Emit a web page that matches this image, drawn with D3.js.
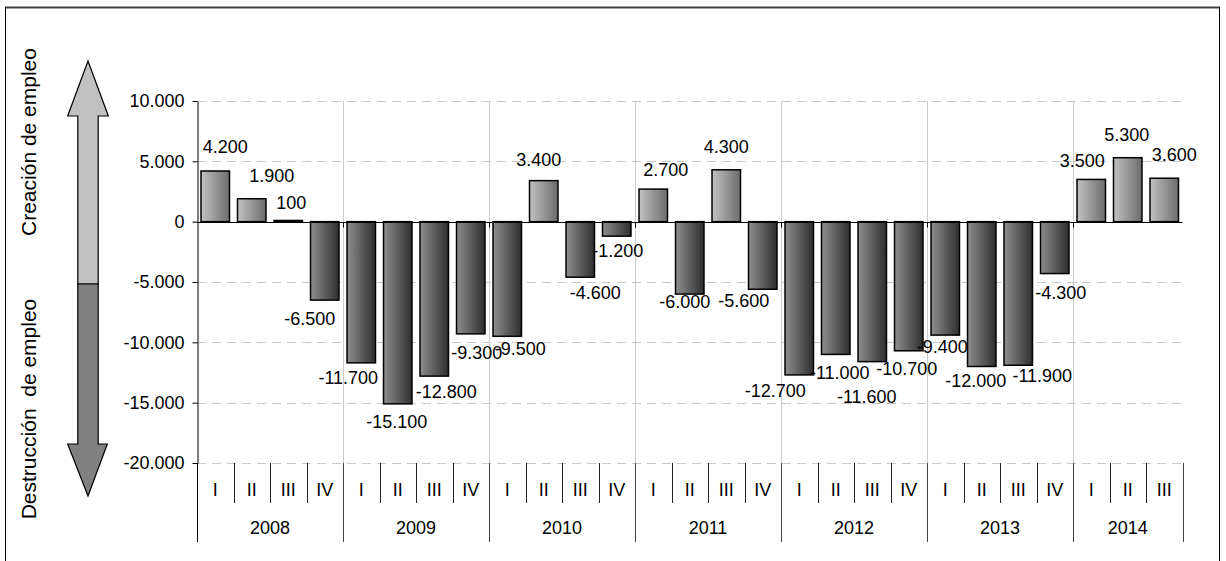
<!DOCTYPE html>
<html><head><meta charset="utf-8">
<script src="https://cdn.jsdelivr.net/npm/d3@7"></script>
<style>
body{margin:0;background:#fff;}
text{font-family:"Liberation Sans",Arial,sans-serif;fill:#000;}
</style>
</head><body>
<svg id="c" width="1226" height="561"></svg>
<script>
// ---- data ----
const years = ["2008","2009","2010","2011","2012","2013","2014"];
const quarterLabels = ["I","II","III","IV"];
const quartersPerYear = [4,4,4,4,4,4,3];
const values = [4200,1900,100,-6500,-11700,-15100,-12800,-9300,-9500,3400,-4600,-1200,2700,-6000,4300,-5600,-12700,-11000,-11600,-10700,-9400,-12000,-11900,-4300,3500,5300,3600];
const yTicks = [10000,5000,0,-5000,-10000,-15000,-20000];
const axisTitles = ["Creación de empleo","Destrucción  de empleo"];

// ---- layout (label nudges relative to bar end, px) ----
const labelNudge = [[10,-24],[20,-23],[3,-17.5],[-15,19],[-13,15],[-1,18],[12,15.5],[6,19],[13,13],[-5,-21],[15,16],[1,15],[12.5,-19],[-5,8],[0,-23],[-19,12],[-24,16],[4,18.6],[-5.5,35],[-2,18],[-3,11.5],[-6,14.5],[24,11],[6,19],[-9,-18.5],[-1,-22.7],[10,-23]];

const cats = [];
years.forEach((yr,i)=>{ for(let q=0;q<quartersPerYear[i];q++) cats.push({key:yr+"-"+quarterLabels[q], year:yr, q:quarterLabels[q]}); });
const data = cats.map((c,i)=>({...c, v:values[i]}));

const svg = d3.select("#c");
const FS = 18, FT = 21;
const L=197, R=1182.5, T=101, B=463;
const x = d3.scaleBand().domain(cats.map(d=>d.key)).range([L,R]).paddingInner(0.22).paddingOuter(0.11);
const y = d3.scaleLinear().domain([-20000,10000]).range([B,T]);
const step = x.step();
const edge = i => L + i*step;

const loc = d3.formatLocale({decimal:",", thousands:".", grouping:[3], currency:["","€"], minus:"-"});
const fmt = loc.format(",d");

// border
svg.append("line").attr("x1",5).attr("x2",1220).attr("y1",7.5).attr("y2",7.5).attr("stroke","#404040").attr("stroke-width",2);
svg.append("line").attr("x1",5.5).attr("x2",5.5).attr("y1",7).attr("y2",561).attr("stroke","#000").attr("stroke-width",1);
svg.append("line").attr("x1",1219.5).attr("x2",1219.5).attr("y1",7).attr("y2",561).attr("stroke","#000").attr("stroke-width",1);

// gradients
const defs = svg.append("defs");
function grad(id, c1, c2){
  const g = defs.append("linearGradient").attr("id",id).attr("x1","0%").attr("x2","100%").attr("y1","0%").attr("y2","0%");
  g.append("stop").attr("offset","0%").attr("stop-color",c1);
  g.append("stop").attr("offset","100%").attr("stop-color",c2);
}
grad("pos","#c2c2c2","#6c6c6c");
grad("neg","#8e8e8e","#2e2e2e");

// horizontal gridlines
svg.append("g").selectAll("line").data(yTicks.filter(t=>t!==0)).join("line")
  .attr("x1",L).attr("x2",R).attr("y1",d=>Math.round(y(d))+0.5).attr("y2",d=>Math.round(y(d))+0.5)
  .attr("stroke","#c8c8c8").attr("stroke-dasharray","9,6");

// vertical year gridlines in plot area
const yearStarts = [];
{ let s=0; quartersPerYear.forEach(n=>{ yearStarts.push(s); s+=n; }); yearStarts.push(s); }
svg.append("g").selectAll("line").data(yearStarts.slice(1,-1)).join("line")
  .attr("x1",d=>Math.round(edge(d))+0.5).attr("x2",d=>Math.round(edge(d))+0.5).attr("y1",T).attr("y2",B)
  .attr("stroke","#cccccc");

// y axis
const ax = svg.append("g").attr("transform",`translate(${L+0.5},0)`)
  .call(d3.axisLeft(y).tickValues(yTicks).tickFormat(fmt).tickSize(5).tickSizeOuter(0).tickPadding(8));
ax.selectAll("text").style("font-size",FS+"px").attr("font-family",null);
ax.selectAll("line,path").attr("stroke","#000");
svg.append("line").attr("x1",L+0.5).attr("x2",L+0.5).attr("y1",B).attr("y2",542).attr("stroke","#000");

// bars
svg.append("g").selectAll("rect").data(data).join("rect")
  .attr("x",d=>x(d.key)).attr("width",x.bandwidth())
  .attr("y",d=>y(Math.max(0,d.v))).attr("height",d=>Math.abs(y(d.v)-y(0)))
  .attr("fill",d=>d.v>=0?"url(#pos)":"url(#neg)")
  .attr("stroke","#000").attr("stroke-width",1.5);

// zero line
const y0 = Math.round(y(0))+0.5;
svg.append("line").attr("x1",L).attr("x2",R).attr("y1",y0).attr("y2",y0).attr("stroke","#000");
svg.append("g").selectAll("line").data(yearStarts.slice(1,-1)).join("line")
  .attr("x1",d=>Math.round(edge(d))+0.5).attr("x2",d=>Math.round(edge(d))+0.5).attr("y1",y0).attr("y2",y0+5)
  .attr("stroke","#000");

// data labels
svg.append("g").selectAll("text").data(data).join("text")
  .attr("x",(d,i)=>x(d.key)+x.bandwidth()/2+labelNudge[i][0])
  .attr("y",(d,i)=>y(d.v)+labelNudge[i][1])
  .attr("text-anchor","middle").attr("dominant-baseline","central")
  .style("font-size",FS+"px").text(d=>fmt(d.v));

// category axis: quarter separators
const qSep = d3.range(1,cats.length).filter(i=>!yearStarts.includes(i));
svg.append("g").selectAll("line").data(qSep).join("line")
  .attr("x1",d=>Math.round(edge(d))+0.5).attr("x2",d=>Math.round(edge(d))+0.5).attr("y1",B).attr("y2",503)
  .attr("stroke","#222");
svg.append("g").selectAll("line").data(yearStarts.slice(1)).join("line")
  .attr("x1",d=>Math.round(edge(d))+0.5).attr("x2",d=>Math.round(edge(d))+0.5).attr("y1",B).attr("y2",542)
  .attr("stroke","#444");
svg.append("g").selectAll("text").data(cats).join("text")
  .attr("x",d=>x(d.key)+x.bandwidth()/2).attr("y",490)
  .attr("text-anchor","middle").attr("dominant-baseline","central")
  .style("font-size",FS+"px").text(d=>d.q);
svg.append("g").selectAll("text").data(years).join("text")
  .attr("x",(d,i)=>(edge(yearStarts[i])+edge(yearStarts[i+1]))/2).attr("y",528)
  .attr("text-anchor","middle").attr("dominant-baseline","central")
  .style("font-size",FS+"px").text(d=>d);

// decorative double arrow
const ax0 = 88, hw = 20.3, sw = 10.2;
const tipTop = 61, headTopBase = 116, split = 284, headBotBase = 444, tipBot = 496;
svg.append("path").attr("d",`M${ax0},${tipTop} L${ax0+hw},${headTopBase} L${ax0+sw},${headTopBase} L${ax0+sw},${split} L${ax0-sw},${split} L${ax0-sw},${headTopBase} L${ax0-hw},${headTopBase} Z`)
  .attr("fill","#c0c0c0").attr("stroke","#000").attr("stroke-width",1.2);
svg.append("path").attr("d",`M${ax0-sw},${split} L${ax0+sw},${split} L${ax0+sw},${headBotBase} L${ax0+hw-1},${headBotBase} L${ax0},${tipBot} L${ax0-hw},${headBotBase} L${ax0-sw},${headBotBase} Z`)
  .attr("fill","#808080").attr("stroke","#000").attr("stroke-width",1.2);

// side titles
svg.append("text").attr("transform","translate(36,142) rotate(-90)").attr("text-anchor","middle")
  .style("font-size",FT+"px").text(axisTitles[0]);
svg.append("text").attr("transform","translate(36,409) rotate(-90)").attr("text-anchor","middle")
  .style("font-size",FT+"px").style("white-space","pre").text(axisTitles[1]);
</script>
</body></html>
